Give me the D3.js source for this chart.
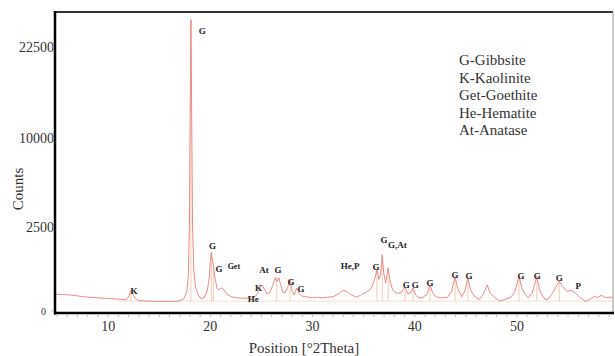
<!DOCTYPE html>
<html><head><meta charset="utf-8">
<script src="https://cdn.jsdelivr.net/npm/d3@7/dist/d3.min.js"></script>
<style>body{margin:0;background:#fff;} svg{display:block;}</style>
</head><body>
<svg id="c" width="615" height="356"></svg>
<script>
// ---- data ----
const twoTheta = [4.8,5.5,6.3,7.0,7.8,8.5,9.2,10.0,10.7,11.3,11.8,12.05,12.2,12.4,12.6,12.9,13.5,14.2,15.0,15.8,16.5,17.0,17.4,17.7,17.85,17.95,18.02,18.1,18.18,18.26,18.38,18.55,18.8,19.1,19.4,19.7,19.9,20.0,20.1,20.2,20.3,20.45,20.65,20.85,21.1,21.35,21.6,22.0,22.5,23.0,23.5,24.0,24.4,24.7,24.9,25.05,25.25,25.5,25.8,26.1,26.35,26.5,26.7,26.9,27.1,27.3,27.55,27.8,28.0,28.2,28.45,28.7,29.0,29.5,30.0,30.5,31.0,31.5,32.0,32.5,32.8,33.05,33.35,33.7,34.0,34.3,34.7,35.1,35.5,35.8,36.1,36.3,36.5,36.65,36.82,36.98,37.15,37.4,37.6,37.85,38.2,38.6,38.85,39.05,39.3,39.6,39.85,40.1,40.4,40.8,41.2,41.5,41.75,42.1,42.6,43.2,43.6,43.95,44.2,44.6,44.9,45.2,45.45,45.8,46.3,46.7,47.1,47.4,47.8,48.3,48.8,49.4,49.8,50.2,50.5,50.8,51.1,51.5,51.95,52.2,52.6,52.95,53.4,53.8,54.15,54.5,54.9,55.3,55.7,56.1,56.7,57.2,57.6,57.9,58.3,58.7,59.1,59.4];
const counts = [115,108,103,92,80,74,69,64,60,55,52,95,160,120,70,48,42,40,38,40,38,42,60,150,500,2500,12000,27200,12000,2500,600,220,110,60,75,160,420,900,1260,950,780,420,200,180,210,170,115,85,72,68,66,68,85,140,220,262,200,120,130,250,420,330,420,250,140,130,210,370,160,105,206,115,88,80,72,76,70,78,82,115,150,165,150,110,92,78,100,130,160,220,400,630,380,500,1150,520,300,690,320,170,130,125,180,225,120,130,210,100,70,75,110,260,130,80,70,75,150,445,200,82,160,415,180,95,52,110,260,120,80,40,55,75,150,445,200,110,70,130,445,180,70,50,110,220,340,230,150,170,130,80,38,60,90,75,100,70,80,69];

const stickPos = [12.2,18.1,20.1,20.3,26.5,27.8,36.3,36.82,37.4,39.05,39.85,41.5,43.95,45.2,50.2,51.95,54.15];
const stickCounts = [160,27200,1260,780,420,370,630,1150,690,225,210,260,445,415,445,445,340];
const stickBase = 40;

const labelText = ["G","K","G","G","Get","K","He","At","G","G","G","He,P","G","G","G,At","G","G","G","G","G","G","G","G","P"];
const labelPos = [19.2,12.54,20.2,20.86,22.3,24.72,24.19,25.26,26.63,27.9,28.88,33.68,36.22,37.0,38.3,39.16,40.04,41.5,43.95,45.32,50.41,51.98,54.13,55.99];
const labelCounts = [25200,158,1520,657,740,206,59,626,626,322,189,749,718,1800,1565,261,261,301,488,462,462,462,413,242];
const labelSmall = [false,false,false,false,true,false,false,false,false,false,false,false,false,false,false,false,false,false,false,false,false,false,false,false];

const legendLines = ["G-Gibbsite","K-Kaolinite","Get-Goethite","He-Hematite","At-Anatase"];
const xTicks = [10,20,30,40,50];
const yTicks = [0,2500,10000,22500];

// ---- drawing ----
const svg = d3.select("#c");
const L = 55, R = 613, T = 12, B = 311;
const x = d3.scaleLinear().domain([4.8, 59.4]).range([L, R]);
const y = d3.scalePow().exponent(0.52).domain([0, 28600]).range([B, T]);
const serif = "'Liberation Serif','Times New Roman',serif";

const pts = twoTheta.map((t,i)=>[t, counts[i]]);

// baseline of reference sticks
svg.append("line").attr("x1", x(11)).attr("x2", R).attr("y1", y(stickBase)).attr("y2", y(stickBase))
  .attr("stroke", "#f8d8c6").attr("stroke-width", 0.8);

// sticks
svg.append("g").selectAll("line").data(stickPos).join("line")
  .attr("x1", d=>x(d)).attr("x2", d=>x(d))
  .attr("y1", y(stickBase)).attr("y2", (d,i)=>y(stickCounts[i]))
  .attr("stroke", "#f5bf9f").attr("stroke-width", 0.8);

// pattern
svg.append("path").datum(pts)
  .attr("d", d3.line().x(d=>x(d[0])).y(d=>y(d[1])))
  .attr("fill","none").attr("stroke","#e98c88").attr("stroke-width",1)
  .attr("stroke-linejoin","round");

// frame
svg.append("line").attr("x1",L-1).attr("x2",R).attr("y1",T).attr("y2",T).attr("stroke","#333").attr("stroke-width",2);
svg.append("line").attr("x1",R).attr("x2",R).attr("y1",T).attr("y2",B+2).attr("stroke","#999").attr("stroke-width",1);
svg.append("line").attr("x1",L).attr("x2",L).attr("y1",T-1).attr("y2",B+3.5).attr("stroke","#000").attr("stroke-width",2.5);
svg.append("line").attr("x1",L-1).attr("x2",R+1).attr("y1",B+2).attr("y2",B+2).attr("stroke","#000").attr("stroke-width",2.5);

// x axis ticks (minor + labels)
const minor = d3.range(5, 60, 1);
svg.append("g").selectAll("line").data(minor).join("line")
  .attr("x1", d=>x(d)).attr("x2", d=>x(d)).attr("y1", B+3.5).attr("y2", B+6)
  .attr("stroke", "#aaa").attr("stroke-width", 0.8);
svg.append("g").selectAll("text").data(xTicks).join("text")
  .attr("x", d=>x(d)).attr("y", B+20).attr("text-anchor","middle")
  .attr("font-family", serif).attr("font-size", 14).attr("fill","#333").text(d=>d);

// y axis labels
svg.append("g").selectAll("text").data(yTicks).join("text")
  .attr("x", d=> d===0 ? 46 : 54).attr("y", d=>y(d)).attr("dy", "0.35em").attr("text-anchor","end")
  .attr("font-family", serif).attr("font-size", d=> d===0 ? 10 : 14).attr("fill","#333").text(d=>d);
svg.append("g").selectAll("line").data(yTicks).join("line")
  .attr("x1", L-4).attr("x2", L-1).attr("y1", d=>y(d)).attr("y2", d=>y(d))
  .attr("stroke","#bbb").attr("stroke-width",0.8);

// axis titles
svg.append("text").attr("x", 304).attr("y", 353).attr("text-anchor","middle")
  .attr("font-family", serif).attr("font-size", 15).attr("fill","#333").text("Position [°2Theta]");
svg.append("text").attr("transform","translate(23,189) rotate(-90)").attr("text-anchor","middle")
  .attr("font-family", serif).attr("font-size", 15).attr("fill","#333").text("Counts");

// peak labels
svg.append("g").selectAll("text").data(labelText).join("text")
  .attr("x", (d,i)=>x(labelPos[i])).attr("y", (d,i)=>y(labelCounts[i])).attr("dy","0.35em")
  .attr("text-anchor","middle").attr("font-family", serif).attr("font-weight","bold")
  .attr("font-size", (d,i)=>labelSmall[i] ? 8 : 9).attr("fill","#222").text(d=>d);

// legend
svg.append("g").selectAll("text").data(legendLines).join("text")
  .attr("x", 459).attr("y", (d,i)=>65 + i*17.6)
  .attr("font-family", serif).attr("font-size", 15).attr("fill","#333").text(d=>d);
</script>
</body></html>
